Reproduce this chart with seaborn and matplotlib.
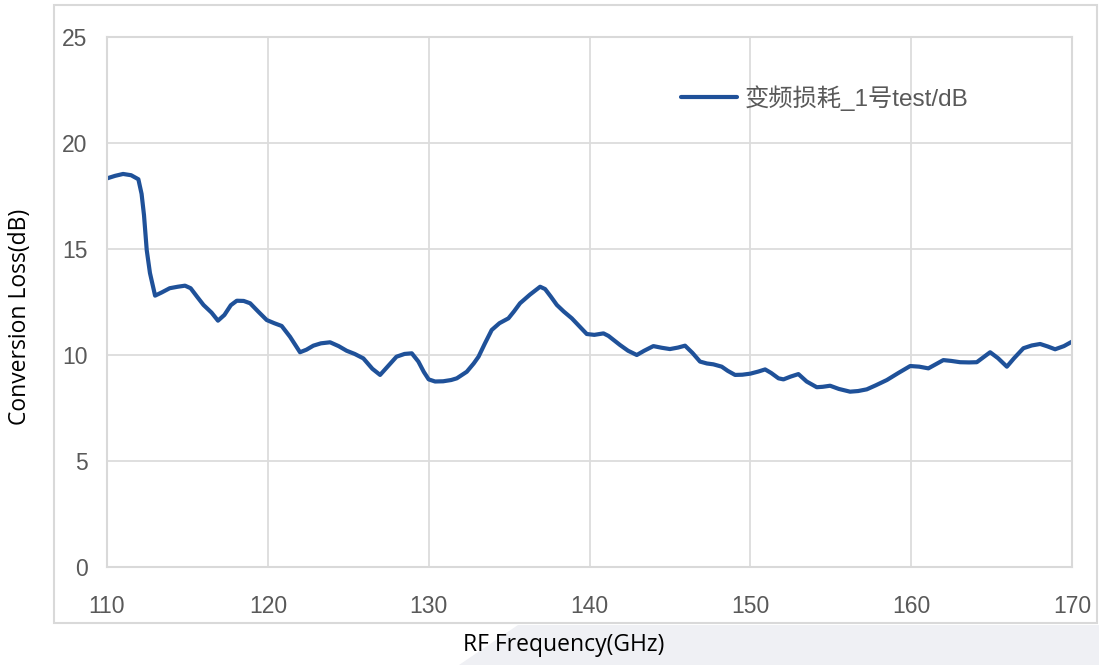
import matplotlib
matplotlib.use("Agg")
import matplotlib.pyplot as plt
import seaborn as sns
import pandas as pd
from matplotlib.patches import Rectangle, Polygon

# Conversion loss
freq = [110.0, 110.5, 111.0, 111.5, 111.95, 112.15, 112.3, 112.47, 112.67, 112.99,
        113.4, 113.9, 114.4, 114.85, 115.2, 115.6, 116.0, 116.5, 116.9, 117.3,
        117.7, 118.07, 118.5, 118.9, 119.4, 119.93, 120.4, 120.86, 121.38, 122.0,
        122.4, 122.83, 123.3, 123.87, 124.4, 124.9, 125.4, 125.94, 126.5, 126.98,
        127.5, 128.0, 128.5, 128.95, 129.36, 129.7, 130.0, 130.4, 130.9, 131.4,
        131.75, 132.37, 132.8, 133.1, 133.5, 133.92, 134.4, 134.96, 135.3, 135.68,
        136.3, 136.93, 137.24, 137.6, 137.97, 138.4, 138.9, 139.4, 139.83, 140.3,
        140.87, 141.18, 141.9, 142.4, 142.94, 143.4, 143.97, 144.5, 145.0, 145.5,
        145.94, 146.4, 146.87, 147.3, 147.7, 148.22, 148.6, 149.05, 149.5, 150.0,
        150.5, 150.92, 151.3, 151.75, 152.06, 152.5, 152.99, 153.5, 154.13, 154.5,
        154.96, 155.5, 156.2, 156.7, 157.24, 157.8, 158.49, 159.2, 159.94, 160.5,
        161.07, 161.5, 162.0, 162.5, 163.04, 163.6, 164.08, 164.5, 164.91, 165.4,
        165.95, 166.4, 166.98, 167.5, 168.02, 168.5, 168.95, 169.5, 170.0]
loss = [18.33, 18.45, 18.54, 18.48, 18.29, 17.6, 16.6, 14.95, 13.87, 12.8,
        12.95, 13.15, 13.22, 13.27, 13.15, 12.75, 12.36, 12.0, 11.62, 11.89,
        12.35, 12.56, 12.55, 12.44, 12.05, 11.65, 11.5, 11.37, 10.86, 10.13,
        10.25, 10.44, 10.55, 10.6, 10.42, 10.2, 10.05, 9.84, 9.35, 9.06,
        9.5, 9.92, 10.05, 10.08, 9.69, 9.2, 8.85, 8.75, 8.76, 8.82,
        8.9, 9.21, 9.6, 9.92, 10.55, 11.18, 11.5, 11.73, 12.05, 12.44,
        12.85, 13.22, 13.11, 12.75, 12.36, 12.05, 11.73, 11.33, 10.99, 10.95,
        11.02, 10.9, 10.47, 10.2, 10.0, 10.2, 10.42, 10.34, 10.28, 10.35,
        10.44, 10.1, 9.69, 9.6, 9.56, 9.45, 9.25, 9.06, 9.07, 9.12,
        9.22, 9.32, 9.15, 8.9, 8.85, 8.98, 9.1, 8.75, 8.48, 8.5,
        8.55, 8.4, 8.27, 8.3, 8.38, 8.57, 8.82, 9.15, 9.48, 9.45,
        9.37, 9.55, 9.76, 9.72, 9.66, 9.65, 9.66, 9.9, 10.13, 9.85,
        9.45, 9.85, 10.32, 10.45, 10.52, 10.4, 10.27, 10.42, 10.63]
series_name = "变频损耗_1号test/dB"
x_ticks = [110, 120, 130, 140, 150, 160, 170]
y_ticks = [0, 5, 10, 15, 20, 25]

df = pd.DataFrame({"freq": freq, "loss": loss})

sns.set_theme(style="whitegrid")
plt.rcParams["font.family"] = ["Liberation Sans", "Noto Sans CJK SC", "DejaVu Sans"]

fig = plt.figure(figsize=(10.99, 6.65), dpi=100)
fig.patch.set_facecolor("white")

# light background strip under the chart box, and the box itself
fig.patches.append(Polygon([(518 / 1099, 1 - 625 / 665), (1, 1 - 625 / 665), (1, 0), (459 / 1099, 0)],
                           closed=True, transform=fig.transFigure, facecolor="#eff0f4",
                           edgecolor="none", zorder=-3))
fig.patches.append(Rectangle((54 / 1099, 1 - 623 / 665), 1043 / 1099, 618 / 665,
                             transform=fig.transFigure, facecolor="white",
                             edgecolor="#d9d9d9", linewidth=1.5, zorder=-2))

ax = fig.add_axes([107 / 1099, 1 - 567 / 665, 965 / 1099, 530 / 665])
ax.set_zorder(1)
sns.lineplot(data=df, x="freq", y="loss", ax=ax, color="#1f5199", linewidth=3,
             label=series_name, sort=False, solid_joinstyle="round",
             solid_capstyle="round")

ax.set_xlim(110, 170)
ax.set_ylim(0, 25)
ax.set_xticks(x_ticks)
ax.set_yticks(y_ticks)
ax.grid(True, color="#dcdcdc", linewidth=1.3)
for s in ax.spines.values():
    s.set_color("#d9d9d9")
    s.set_linewidth(1.5)
ax.tick_params(axis="both", length=0, labelsize=16.5, colors="#595959")
ax.tick_params(axis="y", pad=14)
ax.tick_params(axis="x", pad=20)

ax.set_xlabel("")
ax.set_ylabel("")
fig.text(564 / 1099, 1 - 645 / 665, "RF Frequency(GHz)", ha="center", va="center",
         fontsize=16.5, color="black", family="Open Sans")
fig.text(20 / 1099, 1 - 317 / 665, "Conversion Loss(dB)", ha="center", va="center",
         rotation=90, fontsize=16.5, color="black", family="Open Sans")

leg = ax.legend(loc="center left", bbox_to_anchor=(0.595, 0.885), frameon=False,
                borderpad=0, borderaxespad=0, handlelength=2.3, handletextpad=0.3,
                fontsize=17.5)
for t in leg.get_texts():
    t.set_color("#595959")

fig.savefig("out.png", dpi=100)
